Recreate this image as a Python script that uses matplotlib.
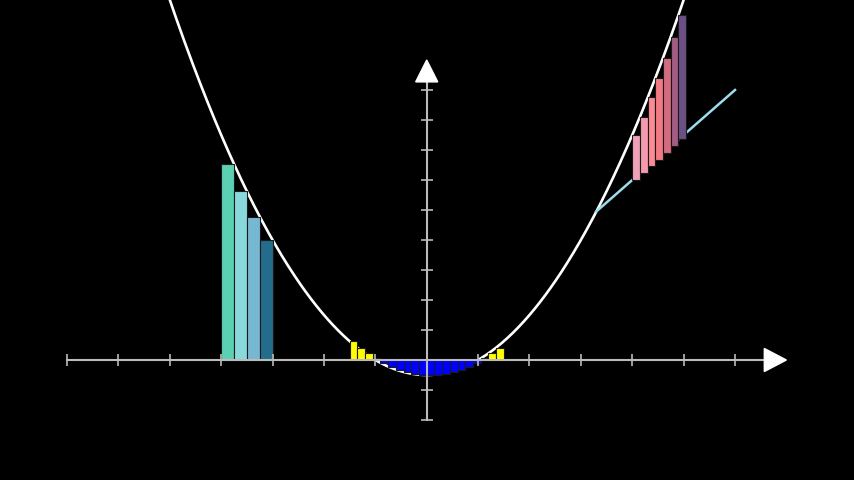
import numpy as np
import matplotlib
matplotlib.use("Agg")
import matplotlib.pyplot as plt
from matplotlib.patches import Polygon

# parabola y = 0.5*x^2 - 0.5
curve_coeffs = [0.5, 0.0, -0.5]
curve_x = [-5.2, 5.2]

# left riemann block (right endpoints)
teal_left = [-4.0, -3.75, -3.5, -3.25]
teal_width = 0.25
teal_height = [6.53, 5.63, 4.78, 4.0]
teal_colors = ["#5CD0B3", "#89D9DC", "#76B8D2", "#236C8C"]

# small bars around the vertex (left endpoints)
small_left = [-1.5, -1.35, -1.2, -1.05, -0.9, -0.75, -0.6, -0.45, -0.3, -0.15,
              0.0, 0.15, 0.3, 0.45, 0.6, 0.75, 0.9, 1.05, 1.2, 1.35]
small_width = 0.15
small_height = [0.625, 0.411, 0.22, 0.051, -0.095, -0.219, -0.32, -0.399, -0.455, -0.489,
                -0.5, -0.489, -0.455, -0.399, -0.32, -0.219, -0.095, 0.051, 0.22, 0.411]

# secant-ish line y = 1.5x
line_x = [3.30, 6.0]
line_y = [4.95, 9.0]

# bars between line and curve
pink_left = [4.0, 4.15, 4.3, 4.45, 4.6, 4.75, 4.9]
pink_width = 0.15
pink_bottom = [6.0, 6.225, 6.45, 6.675, 6.9, 7.125, 7.35]
pink_top = [7.5, 8.11, 8.75, 9.40, 10.08, 10.78, 11.5]
pink_colors = ["#EFA2B7", "#F49AAE", "#FB8A93", "#F37A82", "#D66A80", "#A15D84", "#6C4F84"]

x_ticks = [-7, -6, -5, -4, -3, -2, -1, 1, 2, 3, 4, 5, 6]
y_ticks = [-2, -1, 1, 2, 3, 4, 5, 6, 7, 8, 9]
x_axis = (-7, 7)
y_axis = (-2, 10)

axis_col = "#BBBBBB"

fig = plt.figure(figsize=(8.5401, 4.8001), dpi=100, facecolor="black")
ax = fig.add_axes([0, 0, 1, 1], facecolor="black")
ax.set_xlim(-8.305, 8.316)
ax.set_ylim(-4.0, 12.0)

# curve
xs = np.linspace(curve_x[0], curve_x[1], 400)
ax.plot(xs, np.polyval(curve_coeffs, xs), color="white", lw=1.9, zorder=1)

ax.bar(teal_left, teal_height, width=teal_width, align="edge", color=teal_colors,
       edgecolor="#1a1a1a", linewidth=0.8, zorder=1.5)

small_cols = ["#FFFF00" if h > 0 else "#0000FF" for h in small_height]
ax.bar(small_left, small_height, width=small_width, align="edge", color=small_cols,
       edgecolor="#1a1a1a", linewidth=0.8, zorder=1.5)

ax.plot(line_x, line_y, color="#9CDCEB", lw=1.8, zorder=1.2)

ax.bar(pink_left, np.array(pink_top) - np.array(pink_bottom), bottom=pink_bottom,
       width=pink_width, align="edge", color=pink_colors, edgecolor="#1a1a1a",
       linewidth=0.8, zorder=1.5)

# axes as spines
for s in ["top", "right"]:
    ax.spines[s].set_visible(False)
ax.spines["left"].set_position(("data", 0))
ax.spines["bottom"].set_position(("data", 0))
ax.spines["bottom"].set_bounds(x_axis[0], x_axis[1] - 0.42)
ax.spines["left"].set_bounds(y_axis[0], y_axis[1] - 0.72)
for s in ["left", "bottom"]:
    ax.spines[s].set_color(axis_col)
    ax.spines[s].set_linewidth(1.5)
    ax.spines[s].set_zorder(3)
ax.set_xticks(x_ticks)
ax.set_yticks(y_ticks)
ax.tick_params(direction="inout", length=9, width=1.2, color=axis_col,
               labelbottom=False, labelleft=False)
ax.set_axisbelow(False)

# arrow heads
xl, yl = 0.43, 0.77
ax.add_patch(Polygon([[x_axis[1], 0], [x_axis[1] - xl, yl / 2], [x_axis[1] - xl, -yl / 2]],
                     closed=True, color="white", zorder=4))
xw, yh = 0.43, 0.73
ax.add_patch(Polygon([[0, y_axis[1]], [-xw / 2, y_axis[1] - yh], [xw / 2, y_axis[1] - yh]],
                     closed=True, color="white", zorder=4))

fig.savefig("out.png", dpi=100, facecolor="black")
